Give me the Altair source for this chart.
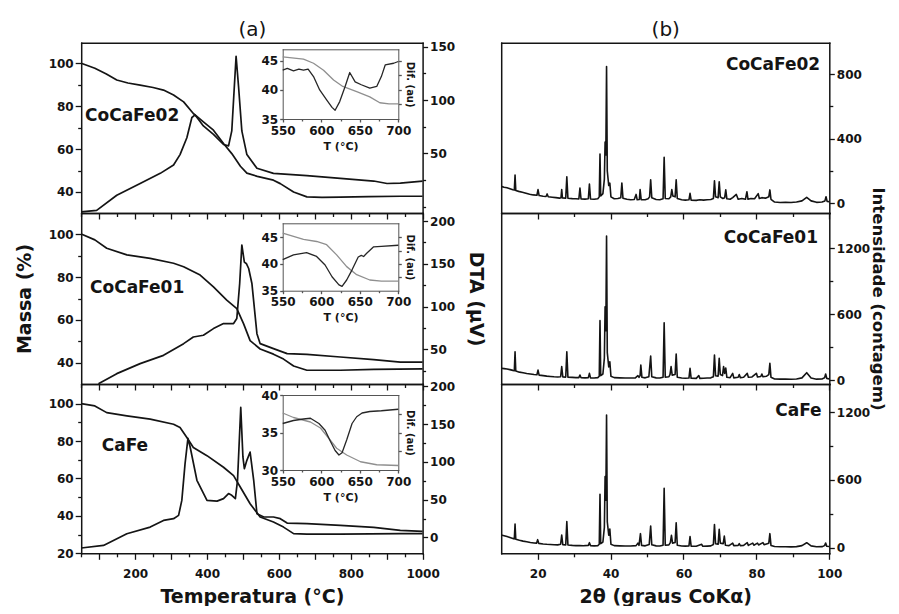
import altair as alt
import pandas as pd

# ---------------- values ----------------
# (a) TG (mass %) and DTA (uV) curves: (temperature °C, value)
MASS_02 = [(50, 100), (88, 97.7), (120, 95), (149, 92.2), (180, 90.8), (214, 89.8), (250, 88.7),
           (279, 87.5), (307, 85.2), (335, 82), (362, 76.6), (390, 72.7), (418, 68.8), (446, 62.6),
           (469, 57.9), (493, 52), (511, 48.8), (540, 47.3), (585, 45.5), (604, 43.9), (641, 40),
           (678, 37.7), (720, 37.5), (771, 37.6), (850, 37.8), (938, 38), (1000, 38)]
DTA_02 = [(50, -5), (93, -3.6), (149, 10.7), (214, 21.7), (270, 31.2), (307, 39), (325, 48.8),
          (344, 64.6), (358, 83.6), (367, 86), (378, 81), (390, 75.7), (418, 67.8), (446, 58.3),
          (460, 57), (469, 71), (476, 112), (481, 141), (488, 112), (497, 71), (511, 48.8),
          (539, 36), (585, 31.2), (678, 29), (771, 26.5), (864, 24), (901, 21.7), (938, 22), (1000, 24)]
MASS_01 = [(50, 100), (88, 97.3), (121, 93.4), (177, 90.3), (242, 88.7), (307, 86.4), (335, 84.8),
           (381, 80.9), (418, 75.4), (455, 69.2), (483, 65.3), (502, 58.2), (520, 50.4), (548, 46.5),
           (585, 44.1), (613, 41.8), (641, 38.6), (678, 36.6), (771, 36.6), (864, 37), (1000, 37.2)]
DTA_01 = [(98, 9.6), (149, 21.5), (214, 33.2), (279, 42.9), (335, 56.6), (362, 64.4), (390, 66.4),
          (418, 74.2), (446, 80.1), (474, 80.1), (483, 86), (491, 127), (497, 172), (504, 152),
          (510, 150), (516, 144.5), (525, 127), (539, 68.3), (548, 56.6), (585, 50.8), (623, 44.9),
          (678, 44.1), (771, 41), (864, 37.9), (938, 35), (1000, 35)]
MASS_CA = [(50, 100), (88, 98.8), (121, 95.2), (177, 93.5), (242, 91.7), (307, 89), (325, 87.2),
           (344, 81.9), (362, 76.6), (400, 72.2), (446, 66), (474, 61.5), (493, 55.3), (520, 46.5),
           (548, 39.4), (585, 36.7), (613, 34), (641, 30.5), (678, 30.3), (771, 30.3), (938, 30.5),
           (1000, 30.5)]
DTA_CA = [(50, -14), (112, -10.6), (177, 4.9), (242, 13.7), (279, 22.5), (307, 24.8), (321, 29.2),
          (330, 49), (339, 97.7), (347, 131), (353, 120), (372, 75.6), (400, 49), (428, 48),
          (446, 51.3), (460, 58), (469, 55.7), (479, 51.3), (485, 75.6), (494, 172), (500, 106.5),
          (504, 91), (511, 102), (520, 113), (530, 75.6), (539, 31.4), (558, 27), (585, 27),
          (604, 24.8), (623, 19), (678, 18.2), (771, 16), (864, 13.3), (938, 9.3), (1000, 8)]

# insets: mass (grey) and differential (dark) between 550 and 700 °C
IN_MASS_02 = [(550, 45.7), (577, 45.3), (590, 44.6), (603, 43.4), (616, 41.7), (628, 40.6),
              (646, 39.7), (663, 38.8), (676, 37.8), (688, 37.6), (700, 37.6)]
IN_DIF_02 = [(550, 43.4), (556, 43.7), (564, 43.3), (571, 43.6), (577, 43.4), (583, 43.6), (590, 42.3),
             (598, 40), (607, 38.3), (614, 37), (618, 36.5), (624, 38), (631, 40.6), (637, 43),
             (644, 41.4), (652, 40.9), (663, 40.3), (672, 40.6), (678, 42.3), (683, 44.3),
             (694, 44.6), (700, 44.9)]
IN_MASS_01 = [(550, 45.75), (577, 44.6), (594, 44.2), (607, 43.6), (620, 41.7), (633, 39.5),
              (646, 38), (663, 37), (678, 36.8), (700, 36.8)]
IN_DIF_01 = [(550, 40.8), (564, 41.7), (581, 42.1), (594, 41.4), (605, 39.8), (614, 37.6), (623, 36.1),
             (627, 35.8), (633, 37), (640, 38.9), (648, 41.3), (652, 41.6), (655, 41.4), (659, 42),
             (668, 43.2), (678, 43.3), (700, 43.5)]
IN_MASS_CA = [(550, 37.6), (564, 37), (586, 36.4), (599, 35.6), (610, 34.2), (620, 32.9), (633, 32),
              (651, 31.1), (672, 30.7), (700, 30.6)]
IN_DIF_CA = [(550, 36.2), (564, 36.6), (577, 36.8), (586, 36.9), (597, 36.2), (605, 35.3), (612, 33.8),
             (618, 32.6), (623, 32), (627, 32.3), (633, 34), (640, 36.2), (646, 37.1), (653, 37.6),
             (663, 37.8), (678, 37.9), (700, 38.1)]

# (b) XRD patterns: (2theta, counts)
XRD_02 = [(10.0, 105), (10.8, 100), (11.6, 96), (12.4, 90), (13.2, 84), (13.6, 82), (13.8, 175), (14.0, 80),
          (14.8, 74), (15.8, 68), (16.8, 62), (17.8, 56), (18.8, 52), (19.8, 50), (20.1, 85), (20.4, 48),
          (21.5, 44), (22.3, 42), (22.6, 58), (22.9, 41), (24.0, 38), (25.0, 35), (26.0, 32), (26.4, 34),
          (26.6, 85), (26.8, 33), (27.7, 32), (28.0, 165), (28.3, 31), (29.5, 29), (30.5, 28), (31.3, 27),
          (31.6, 95), (31.9, 27), (33.0, 26), (33.9, 28), (34.2, 120), (34.5, 27), (35.5, 25), (36.5, 28),
          (36.9, 40), (37.1, 305), (37.3, 45), (37.9, 60), (38.3, 150), (38.5, 380), (38.7, 300),
          (38.9, 847), (39.1, 200), (39.5, 110), (39.8, 125), (40.1, 40), (41.0, 28), (42.0, 30),
          (42.8, 35), (43.1, 125), (43.4, 32), (44.5, 25), (45.5, 22), (46.5, 24), (47.0, 55), (47.3, 22),
          (47.9, 24), (48.1, 85), (48.4, 23), (49.5, 22), (50.3, 28), (50.7, 40), (51.0, 145), (51.3, 35),
          (52.5, 24), (53.5, 22), (54.4, 28), (54.7, 285), (55.0, 30), (56.0, 28), (56.5, 40), (56.8, 85),
          (57.1, 45), (57.7, 40), (58.0, 145), (58.3, 30), (59.5, 22), (60.5, 20), (61.5, 22), (61.8, 62),
          (62.1, 20), (63.5, 18), (64.5, 22), (65.5, 20), (66.5, 22), (67.5, 24), (68.2, 30), (68.5, 140),
          (68.8, 40), (69.5, 35), (69.8, 134), (70.1, 40), (70.8, 30), (71.3, 35), (71.6, 83), (71.9, 28),
          (72.8, 25), (73.5, 35), (74.5, 55), (75.0, 25), (76.0, 30), (77.0, 25), (77.4, 72), (77.7, 25),
          (78.5, 30), (79.5, 28), (80.5, 60), (80.8, 30), (81.5, 35), (82.5, 32), (83.4, 40), (83.7, 83),
          (84.0, 25), (85.0, 8), (86.5, 5), (88.0, 6), (89.5, 5), (91.0, 8), (92.5, 15), (93.8, 37),
          (95.0, 15), (96.5, 6), (98.0, 8), (98.8, 15), (99.1, 41), (99.4, 12), (100.0, 10)]
XRD_01 = [(10.0, 107), (10.8, 104), (11.6, 100), (12.4, 95), (13.2, 88), (13.6, 85), (13.8, 258), (14.0, 82),
          (15.0, 72), (16.0, 66), (17.0, 60), (18.0, 55), (19.0, 50), (19.8, 48), (20.1, 91), (20.4, 45),
          (21.5, 40), (22.5, 36), (23.5, 33), (24.5, 30), (25.5, 28), (26.3, 30), (26.6, 122), (26.9, 28),
          (27.7, 27), (28.0, 258), (28.3, 26), (29.5, 24), (30.5, 22), (31.3, 22), (31.6, 46), (31.9, 21),
          (33.0, 20), (33.9, 22), (34.2, 61), (34.5, 20), (35.5, 19), (36.5, 22), (36.9, 35), (37.1, 541),
          (37.3, 40), (37.9, 55), (38.3, 200), (38.5, 668), (38.7, 450), (38.9, 1313), (39.1, 250),
          (39.5, 120), (39.8, 167), (40.1, 35), (41.0, 22), (42.5, 20), (44.0, 18), (45.5, 18), (46.8, 20),
          (47.5, 40), (47.8, 25), (48.1, 40), (48.3, 137), (48.6, 25), (49.5, 20), (50.5, 30), (51.0, 219),
          (51.3, 30), (52.5, 20), (53.5, 18), (54.4, 25), (54.7, 522), (55.0, 25), (56.0, 30), (56.3, 50),
          (56.6, 122), (56.9, 45), (57.7, 50), (58.0, 237), (58.3, 25), (59.5, 18), (60.5, 16), (61.5, 18),
          (61.8, 107), (62.1, 16), (63.5, 15), (64.2, 40), (64.5, 15), (65.5, 16), (66.5, 18), (67.5, 20),
          (68.2, 30), (68.5, 228), (68.8, 40), (69.5, 35), (69.8, 198), (70.1, 50), (70.7, 40), (71.0, 122),
          (71.3, 60), (71.6, 110), (71.9, 25), (72.8, 22), (73.5, 61), (73.8, 20), (75.0, 25), (75.3, 50),
          (75.6, 22), (76.5, 25), (77.5, 61), (77.8, 25), (78.8, 28), (80.0, 61), (80.3, 28), (81.2, 32),
          (81.5, 55), (81.8, 30), (82.8, 35), (83.4, 50), (83.7, 152), (84.0, 25), (85.0, 10), (86.5, 8),
          (88.0, 8), (89.5, 7), (91.0, 10), (92.5, 20), (93.8, 67), (95.0, 18), (96.5, 8), (98.0, 10),
          (98.7, 20), (99.0, 55), (99.3, 15), (100.0, 10)]
XRD_CA = [(10.0, 112), (10.8, 106), (11.6, 98), (12.4, 90), (13.2, 82), (13.6, 78), (13.8, 210), (14.0, 75),
          (15.0, 66), (16.0, 58), (17.0, 52), (18.0, 46), (19.0, 42), (19.7, 40), (20.0, 71), (20.3, 38),
          (21.5, 33), (22.5, 30), (23.5, 28), (24.5, 26), (25.5, 25), (26.3, 30), (26.6, 112), (26.9, 26),
          (27.7, 25), (28.0, 231), (28.3, 24), (29.5, 20), (30.5, 18), (31.5, 18), (32.5, 17), (33.9, 20),
          (34.2, 44), (34.5, 18), (35.5, 16), (36.5, 18), (36.9, 30), (37.1, 473), (37.3, 35), (37.9, 50),
          (38.3, 180), (38.5, 630), (38.7, 420), (38.9, 1176), (39.1, 230), (39.5, 110), (39.8, 166),
          (40.1, 30), (41.0, 18), (42.5, 16), (44.0, 15), (45.5, 15), (47.0, 18), (47.5, 40), (47.8, 20),
          (48.2, 124), (48.5, 20), (49.5, 16), (50.6, 28), (51.0, 192), (51.3, 25), (52.5, 16), (53.5, 15),
          (54.4, 22), (54.7, 527), (55.0, 22), (56.0, 25), (56.4, 45), (56.7, 109), (57.0, 40), (57.7, 45),
          (58.0, 221), (58.3, 22), (59.5, 15), (60.5, 14), (61.5, 16), (61.8, 98), (62.1, 14), (63.5, 12),
          (65.0, 30), (65.3, 12), (66.5, 14), (67.5, 16), (68.2, 28), (68.5, 204), (68.8, 35), (69.5, 30),
          (69.8, 162), (70.1, 40), (70.9, 35), (71.2, 103), (71.5, 22), (72.5, 18), (73.5, 40), (73.8, 18),
          (75.0, 20), (75.3, 35), (75.6, 18), (76.5, 20), (77.5, 44), (77.8, 20), (79.0, 40), (79.3, 22),
          (80.3, 40), (80.6, 24), (81.8, 45), (82.1, 26), (83.4, 40), (83.7, 124), (84.0, 20), (85.0, 10),
          (86.5, 8), (88.0, 8), (89.5, 7), (91.0, 9), (92.5, 18), (93.8, 44), (95.0, 16), (96.5, 8),
          (98.0, 9), (98.7, 18), (99.0, 41), (99.3, 12), (100.0, 10)]

SAMPLES = ["CoCaFe02", "CoCaFe01", "CaFe"]
LABEL_A = [(60.6, 75.5), (74.5, 75.1), (107, 77.5)]      # (T, mass) of sample names in (a)
LABEL_B = [(97.5, 857), (96.9, 1292), (97.9, 1215)]      # (2theta, counts) of sample names in (b)

# axis domains / ticks
T_DOM = [50, 1000]
MASS_DOM = [[30.2, 109.6], [30.2, 109.8], [20.0, 110.5]]
DTA_DOM = [[-6, 153.8], [9.4, 209.4], [-21, 203]]
MASS_MAJ = [[40, 60, 80, 100], [40, 60, 80, 100], [20, 40, 60, 80, 100]]
MASS_MIN = [[50, 70, 90], [50, 70, 90], [30, 50, 70, 90]]
DTA_MAJ = [[50, 100, 150], [50, 100, 150, 200], [0, 50, 100, 150, 200]]
DTA_MIN = [[0, 25, 75, 125], [25, 75, 125, 175], [25, 75, 125, 175]]
IN_DOM = [[35, 47], [35, 47.6], [30, 40]]
IN_MAJ = [[35, 40, 45], [35, 40, 45], [30, 35, 40]]
IN_RT = [[37.5, 40, 42.5, 45], [37.5, 40, 42.5, 45], [32.5, 35, 37.5]]
TH_DOM = [10, 100]
XRD_DOM = [[-60, 995], [-36, 1522], [-50, 1451]]
XRD_MAJ = [[0, 400, 800], [0, 600, 1200], [0, 600, 1200]]
XRD_MIN = [[200, 600], [300, 900], [300, 900]]

# ---------------- layout (page pixels) and style ----------------
W, H = 883, 598
FONT = "DejaVu Sans"
INK = "#141414"
GREY = "#8f8f8f"
A_X = (81.2, 422.6)
B_X = (501.2, 829.3)
ROW_Y = [(42.7, 213.0), (213.0, 384.0), (384.0, 553.3)]
IN_X = (282.7, 398.3)
IN_Y = [(49.3, 119.0), (223.3, 290.7), (395.0, 470.0)]


def cx(p):
    return p - 8.0


def cy(p):
    return p - 8.0


def sc(dom, lo, hi):
    return alt.Scale(domain=list(dom), range=[lo, hi], nice=False, zero=False)


def ax(orient, pos, **kw):
    if orient == "left":
        off = -cx(pos)
    elif orient == "right":
        off = cx(pos) - W
    elif orient == "top":
        off = -cy(pos)
    else:
        off = cy(pos) - H
    d = dict(orient=orient, offset=off, grid=False, format="d",
             domainColor=INK, domainWidth=1.5, domainCap="square",
             tickColor=INK, tickWidth=1.3, tickSize=6,
             labelFont=FONT, labelFontSize=12, labelFontWeight="bold", labelColor=INK,
             labelPadding=2, labelFlush=False, labelOverlap=False,
             titleFont=FONT, titleFontSize=19, titleFontWeight="bold", titleColor=INK, title=None)
    d.update(kw)
    return alt.Axis(**d)


def line(pairs, xs, ys, xaxis=None, yaxis=None, color=INK, width=1.7, opacity=1.0):
    df = pd.DataFrame(pairs, columns=["x", "y"])
    return alt.Chart(df).mark_line(color=color, strokeWidth=width, opacity=opacity,
                                   strokeJoin="round").encode(
        x=alt.X("x:Q", scale=xs, axis=xaxis),
        y=alt.Y("y:Q", scale=ys, axis=yaxis),
    )


def label(name, xv, yv, xs, ys, align):
    df = pd.DataFrame({"x": [xv], "y": [yv], "t": [name]})
    return alt.Chart(df).mark_text(align=align, baseline="middle", font=FONT, fontSize=17,
                                   fontWeight="bold", color=INK).encode(
        x=alt.X("x:Q", scale=xs, axis=None),
        y=alt.Y("y:Q", scale=ys, axis=None),
        text="t:N",
    )


layers = []
MASSES = [MASS_02, MASS_01, MASS_CA]
DTAS = [DTA_02, DTA_01, DTA_CA]
IN_MASSES = [IN_MASS_02, IN_MASS_01, IN_MASS_CA]
IN_DIFS = [IN_DIF_02, IN_DIF_01, IN_DIF_CA]
XRDS = [XRD_02, XRD_01, XRD_CA]

for r in range(3):
    top, bot = ROW_Y[r]
    last = r == 2
    # ---------- panel (a) ----------
    xs = sc(T_DOM, cx(A_X[0]), cx(A_X[1]))
    ym = sc(MASS_DOM[r], cy(bot), cy(top))
    yd = sc(DTA_DOM[r], cy(bot), cy(top))
    layers.append(line(
        MASSES[r], xs, ym,
        xaxis=ax("bottom", bot, values=list(range(100, 1001, 100)), tickSize=6, labels=last,
                 labelExpr="datum.value % 200 === 0 ? datum.label : ''", labelPadding=9,
                 title="Temperatura (°C)" if last else None, titlePadding=8),
        yaxis=ax("left", A_X[0], values=MASS_MAJ[r], tickSize=6,
                 title="Massa (%)" if r == 1 else None, titlePadding=14)))
    layers.append(line(
        MASSES[r], xs, ym, opacity=0,
        xaxis=ax("bottom", bot, values=list(range(50, 1000, 100)), tickSize=3.5, labels=False, domain=False),
        yaxis=ax("left", A_X[0], values=MASS_MIN[r], tickSize=3.5, labels=False, domain=False)))
    layers.append(line(
        DTAS[r], xs, yd,
        xaxis=ax("top", top, ticks=False, labels=False,
                 title="(a)" if r == 0 else None, titleFontSize=20, titleFontWeight="normal",
                 titlePadding=3),
        yaxis=ax("right", A_X[1], values=DTA_MAJ[r], tickSize=5,
                 title="DTA (µV)" if r == 1 else None, titlePadding=11)))
    layers.append(line(
        DTAS[r], xs, yd, opacity=0,
        yaxis=ax("right", A_X[1], values=DTA_MIN[r], tickSize=3, labels=False, domain=False)))
    layers.append(label(SAMPLES[r], LABEL_A[r][0], LABEL_A[r][1], xs, ym, "left"))

    # inset
    itop, ibot = IN_Y[r]
    xi = sc([550, 700], cx(IN_X[0]), cx(IN_X[1]))
    yi = sc(IN_DOM[r], cy(ibot), cy(itop))
    yi2 = sc(IN_DOM[r], cy(ibot), cy(itop))
    layers.append(line(
        IN_MASSES[r], xi, yi, color=GREY, width=1.3,
        xaxis=ax("bottom", ibot, values=[550, 600, 650, 700], tickSize=3, labelPadding=3,
                 domainWidth=1, domainColor="#555555", tickColor="#555555",
                 title="T (°C)", titleFontSize=11, titlePadding=4),
        yaxis=ax("left", IN_X[0], values=IN_MAJ[r], tickSize=3, labelPadding=2,
                 domainWidth=1, domainColor="#555555", tickColor="#555555")))
    layers.append(line(
        IN_DIFS[r], xi, yi2, color="#262626", width=1.3,
        xaxis=ax("top", itop, ticks=False, labels=False, domainWidth=1, domainColor="#555555"),
        yaxis=ax("right", IN_X[1], values=IN_RT[r], tickSize=3, labels=False,
                 domainWidth=1, domainColor="#555555", tickColor="#555555",
                 title="Dif. (au)", titleFontSize=10, titlePadding=3)))
    layers.append(line(
        IN_MASSES[r], xi, yi, opacity=0,
        xaxis=ax("bottom", ibot, values=[575, 625, 675], tickSize=2, labels=False, domain=False,
                 tickColor="#555555")))

    # ---------- panel (b) ----------
    xb = sc(TH_DOM, cx(B_X[0]), cx(B_X[1]))
    yb = sc(XRD_DOM[r], cy(bot), cy(top))
    layers.append(line(
        XRDS[r], xb, yb, width=1.6,
        xaxis=ax("bottom", bot, values=[20, 40, 60, 80, 100], tickSize=6, labels=last, labelPadding=9,
                 title="2θ (graus CoKα)" if last else None, titlePadding=8),
        yaxis=ax("right", B_X[1], values=XRD_MAJ[r], tickSize=5, labelPadding=2,
                 title="Intensidade (contagem)" if r == 1 else None, titleFontSize=16.5,
                 titlePadding=0)))
    layers.append(line(
        XRDS[r], xb, yb, opacity=0,
        xaxis=ax("bottom", bot, values=[30, 50, 70, 90], tickSize=3.5, labels=False, domain=False),
        yaxis=ax("right", B_X[1], values=XRD_MIN[r], tickSize=3.5, labels=False, domain=False)))
    layers.append(line(
        XRDS[r], xb, yb, opacity=0,
        xaxis=ax("top", top, ticks=False, labels=False,
                 title="(b)" if r == 0 else None, titleFontSize=20, titleFontWeight="normal",
                 titlePadding=3),
        yaxis=ax("left", B_X[0], ticks=False, labels=False)))
    layers.append(label(SAMPLES[r], LABEL_B[r][0], LABEL_B[r][1], xb, yb, "right"))

chart = (
    alt.layer(*layers)
    .resolve_scale(x="independent", y="independent")
    .properties(width=W, height=H, autosize=alt.AutoSizeParams(type="none"), padding=0,
                background="white")
    .configure_view(stroke=None)
)

chart.save("out.html", embed_options={"renderer": "svg", "actions": False})
